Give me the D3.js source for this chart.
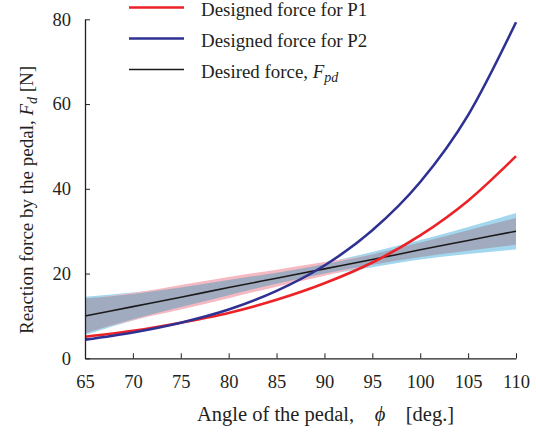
<!DOCTYPE html>
<html>
<head>
<meta charset="utf-8">
<script src="https://cdn.jsdelivr.net/npm/d3@7"></script>
<style>
  body { margin: 0; background: #fff; }
  svg text { font-family: "Liberation Serif", "Times New Roman", Times, "Nimbus Roman", "DejaVu Serif", serif !important; fill: #231f20; }
</style>
</head>
<body>
<svg id="chart"></svg>
<script>
// data
var angles   = [65, 70, 75, 80, 85, 90, 95, 100, 105, 110];
var desired  = [10.0, 12.2, 14.4, 16.7, 18.9, 21.1, 23.3, 25.6, 27.8, 30.0];
var forceP1  = [5.1, 6.5, 8.4, 10.7, 13.8, 17.7, 22.6, 29.0, 37.2, 47.7];
var forceP2  = [4.4, 6.1, 8.4, 11.5, 15.9, 21.9, 30.2, 41.6, 57.4, 79.3];
// tolerance bands
var blueUpper = [14.5, 15.5, 16.8, 18.5, 20.3, 22.5, 25.1, 27.9, 31.0, 34.3];
var blueLower = [5.5, 8.9, 12.0, 14.9, 17.5, 19.7, 21.5, 23.3, 24.6, 25.7];
var pinkUpper = [13.9, 15.4, 17.3, 19.2, 20.9, 22.7, 24.5, 27.1, 29.8, 32.6];
var pinkLower = [6.1, 9.0, 11.5, 14.2, 16.9, 19.5, 22.1, 24.1, 25.8, 27.4];
var grayUpper = [14.1, 15.2, 16.7, 18.5, 20.2, 22.2, 24.5, 27.3, 30.2, 33.1];
var grayLower = [5.9, 9.2, 12.1, 14.9, 17.6, 20.0, 22.1, 23.9, 25.4, 26.8];

var xTicks = [65, 70, 75, 80, 85, 90, 95, 100, 105, 110];
var yTicks = [0, 20, 40, 60, 80];

var width = 536, height = 433;
var svg = d3.select('#chart')
    .attr('width', width)
    .attr('height', height);

var x = d3.scaleLinear().domain([65, 110]).range([85, 516]);
var y = d3.scaleLinear().domain([0, 80]).range([358.3, 19.3]);

function band(upper, lower) {
    return d3.area()
        .x(function(d, i) { return x(angles[i]); })
        .y0(function(d, i) { return y(lower[i]); })
        .y1(function(d, i) { return y(upper[i]); })
        .curve(d3.curveMonotoneX)(angles);
}
var line = function(vals) {
    return d3.line()
        .x(function(d, i) { return x(angles[i]); })
        .y(function(d, i) { return y(vals[i]); })
        .curve(d3.curveMonotoneX)(angles);
};

svg.append('path').attr('d', band(blueUpper, blueLower)).attr('fill', '#a2d7ee');
svg.append('path').attr('d', band(pinkUpper, pinkLower)).attr('fill', '#f5b9c2');
svg.append('path').attr('d', band(grayUpper, grayLower)).attr('fill', '#a1abbf');

svg.append('path').attr('d', line(desired)).attr('fill', 'none')
    .attr('stroke', '#1a1a1a').attr('stroke-width', 1.6);
svg.append('path').attr('d', line(forceP1)).attr('fill', 'none')
    .attr('stroke', '#ed2227').attr('stroke-width', 2.6);
svg.append('path').attr('d', line(forceP2)).attr('fill', 'none')
    .attr('stroke', '#2e3192').attr('stroke-width', 2.6);

// axes
var xAxis = d3.axisBottom(x).tickValues(xTicks).tickSizeInner(-5).tickSizeOuter(0).tickPadding(17);
var yAxis = d3.axisLeft(y).tickValues(yTicks).tickSizeInner(-5).tickSizeOuter(0).tickPadding(14);

var gx = svg.append('g').attr('transform', 'translate(0,' + y(0) + ')').call(xAxis);
var gy = svg.append('g').attr('transform', 'translate(' + x(65) + ',0)').call(yAxis);
[gx, gy].forEach(function(g) {
    g.attr('font-family', null).attr('font-size', null);
    g.select('.domain').attr('stroke', '#231f20').attr('stroke-width', 1.3);
    g.selectAll('.tick line').attr('stroke', '#231f20').attr('stroke-width', 1);
    g.selectAll('.tick text').attr('font-size', 18.5).attr('fill', '#231f20');
});
gx.selectAll('.tick text').attr('dy', '0.71em');

// axis titles
var xt = svg.append('text').attr('x', 197).attr('y', 421)
    .attr('text-anchor', 'start').attr('font-size', 20.5);
xt.append('tspan').text('Angle of the pedal,\u2003');
xt.append('tspan').attr('font-style', 'italic').text('\u03d5');
xt.append('tspan').text('\u2003[deg.]');

var yt = svg.append('text')
    .attr('transform', 'translate(33,334) rotate(-90)')
    .attr('text-anchor', 'start').attr('font-size', 19);
yt.append('tspan').text('Reaction force by the pedal, ');
yt.append('tspan').attr('font-style', 'italic').text('F');
yt.append('tspan').attr('font-style', 'italic').attr('font-size', 14).attr('dy', 4).text('d');
yt.append('tspan').attr('dy', -4).text(' [N]');

// legend
var legendNames = ['Designed force for P1', 'Designed force for P2', 'Desired force, '];
var legendColors = ['#ed2227', '#2e3192', '#1a1a1a'];
var legendWidths = [2.6, 2.6, 1.6];
var lg = svg.append('g');
legendNames.forEach(function(name, i) {
    var ly = 7.5 + i * 31;
    lg.append('line').attr('x1', 129).attr('x2', 184).attr('y1', ly).attr('y2', ly)
        .attr('stroke', legendColors[i]).attr('stroke-width', legendWidths[i]);
    var t = lg.append('text').attr('x', 201).attr('y', ly + 8.5).attr('font-size', 18.9).text(name);
    if (i === 2) {
        t.append('tspan').attr('font-style', 'italic').text('F');
        t.append('tspan').attr('font-style', 'italic').attr('font-size', 14).attr('dy', 4).text('pd');
    }
});
</script>
</body>
</html>
